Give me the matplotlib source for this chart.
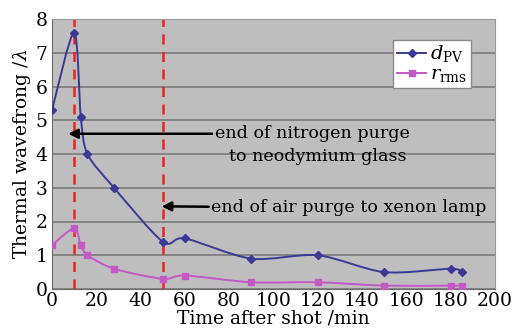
import matplotlib.pyplot as plt
import numpy as np
from matplotlib.path import Path
from matplotlib.patches import PathPatch
from matplotlib.lines import Line2D

plt.rcParams["font.family"] = ["DejaVu Serif"]
plt.rcParams["mathtext.fontset"] = "dejavuserif"

# minutes after shot
time_min = [0, 10, 13, 16, 28, 50, 60, 90, 120, 150, 180, 185]
d_pv = [5.3, 7.6, 5.1, 4.0, 3.0, 1.4, 1.5, 0.9, 1.0, 0.5, 0.6, 0.5]
r_rms = [1.3, 1.8, 1.3, 1.0, 0.6, 0.3, 0.4, 0.2, 0.2, 0.1, 0.1, 0.1]
purge_marks = [10, 50]

BG = "#BEBEBE"
PV_COLOR = "#3A3A96"
RMS_COLOR = "#C458C4"


def smooth_path(xs, ys, tension=1 / 7):
    """Catmull-Rom style Bezier path through the points (like Excel smoothing)."""
    pts = np.column_stack([xs, ys]).astype(float)
    verts = [pts[0]]
    codes = [Path.MOVETO]
    n = len(pts)
    for i in range(n - 1):
        p0 = pts[max(i - 1, 0)]
        p1 = pts[i]
        p2 = pts[i + 1]
        p3 = pts[min(i + 2, n - 1)]
        c1 = p1 + (p2 - p0) * tension
        c2 = p2 - (p3 - p1) * tension
        verts += [c1, c2, p2]
        codes += [Path.CURVE4] * 3
    return Path(verts, codes)


fig = plt.figure(figsize=(5.14, 3.35), dpi=100)
ax = fig.add_axes([52 / 514, 1 - 289 / 335, 443 / 514, 270 / 335])
ax.set_facecolor(BG)

ax.set_xlim(0, 200)
ax.set_ylim(0, 8)
ax.set_xticks(range(0, 201, 20))
ax.set_yticks(range(0, 9))
ax.tick_params(labelsize=13.5, length=0)
ax.tick_params(axis="x", pad=2)
ax.tick_params(axis="y", pad=3)
ax.yaxis.grid(True, color="#7A7A7A", linewidth=1.2)
ax.set_axisbelow(True)
for side in ["top", "right"]:
    ax.spines[side].set_color("#9A9A9A")
for side in ["left", "bottom"]:
    ax.spines[side].set_color("#6A6A6A")

for x in purge_marks:
    ax.axvline(x, color="#F02020", linestyle=(0, (4, 3)), linewidth=1.8, zorder=2)

for ys, color in [(d_pv, PV_COLOR), (r_rms, RMS_COLOR)]:
    patch = PathPatch(smooth_path(time_min, ys), facecolor="none",
                      edgecolor=color, linewidth=1.4, zorder=3)
    ax.add_patch(patch)

ax.plot(time_min, d_pv, linestyle="none", marker="D", markersize=4.5,
        color=PV_COLOR, zorder=4)
ax.plot(time_min, r_rms, linestyle="none", marker="s", markersize=5,
        color=RMS_COLOR, zorder=4)

ax.annotate("end of nitrogen purge", xy=(7.3, 4.6),
            xytext=(73.5, 4.6), fontsize=12.6, va="center", ha="left",
            arrowprops=dict(arrowstyle="-|>", color="black", lw=1.8,
                            mutation_scale=14, shrinkA=0, shrinkB=0))
ax.text(80, 3.92, "to neodymium glass", fontsize=12.6, va="center", ha="left")
ax.annotate("end of air purge to xenon lamp", xy=(49.5, 2.45),
            xytext=(72, 2.4), fontsize=12.6, va="center", ha="left",
            arrowprops=dict(arrowstyle="-|>", color="black", lw=1.8,
                            mutation_scale=14, shrinkA=0, shrinkB=0))

handles = [
    Line2D([], [], color=PV_COLOR, marker="D", markersize=4, lw=1.4),
    Line2D([], [], color=RMS_COLOR, marker="s", markersize=4.5, lw=1.4),
]
leg = ax.legend(handles, [r"$d_{\rm PV}$", r"$r_{\rm rms}$"], loc="upper right",
                bbox_to_anchor=(0.968, 0.96), fontsize=14, handlelength=1.5,
                handletextpad=0.2, borderpad=0.2, labelspacing=0.05,
                fancybox=False, framealpha=1, edgecolor="#8A8A8A")
leg.get_frame().set_linewidth(1.0)

ax.set_ylabel(r"Thermal wavefrong /$\lambda$", fontsize=13.5, labelpad=2)
ax.set_xlabel("Time after shot /min", fontsize=13.5, labelpad=0)

fig.savefig("out.png", dpi=100)
